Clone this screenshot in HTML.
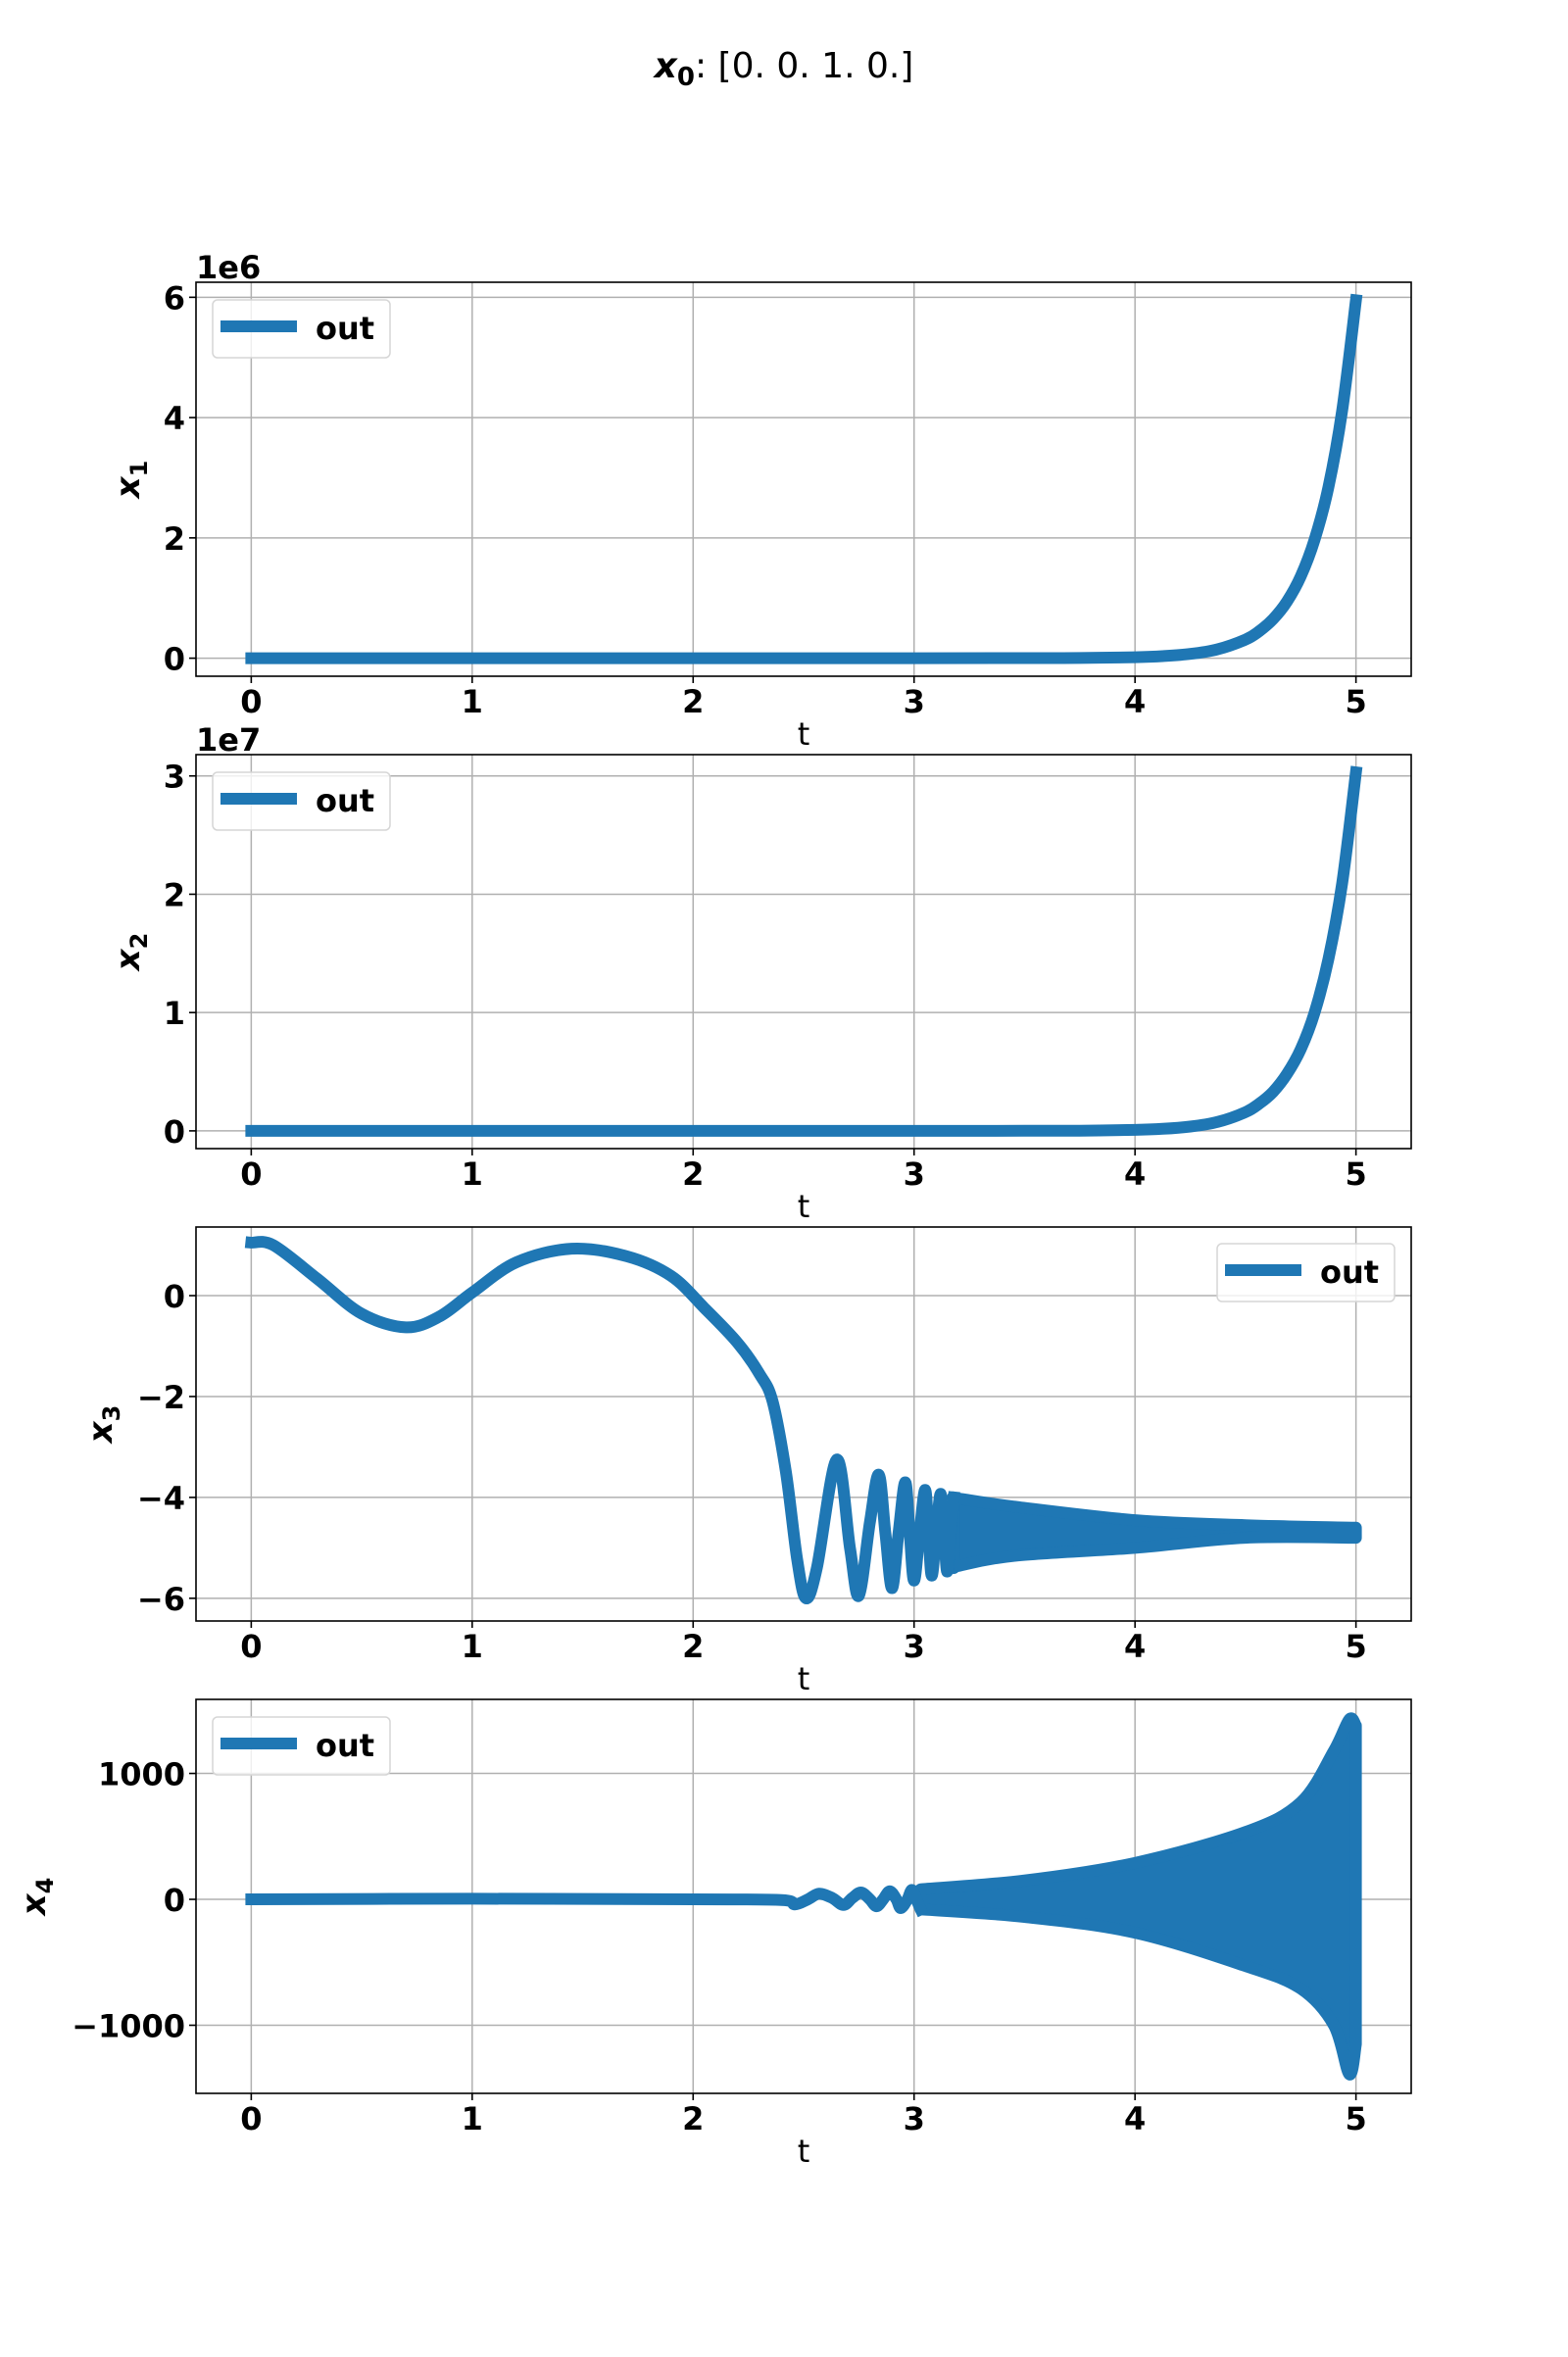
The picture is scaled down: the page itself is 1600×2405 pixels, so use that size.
<!DOCTYPE html>
<html><head><meta charset="utf-8">
<style>
html,body{margin:0;padding:0;background:#fff;}
svg text{font-family:"DejaVu Sans","Liberation Sans",sans-serif;}
</style></head>
<body>
<svg id="fig" xmlns="http://www.w3.org/2000/svg" width="1600" height="2400" viewBox="0 0 1600 2400">
<rect width="1600" height="2400" fill="#fff"/>
<text x="800" y="79" text-anchor="middle" font-size="36"><tspan font-weight="bold" font-style="italic">x</tspan><tspan font-weight="bold" font-size="26" dy="8">0</tspan><tspan dy="-8">: [0. 0. 1. 0.]</tspan></text>
</svg>
<script>
// ---- data ----
const x1Times = [0,1,2,3,3.5,3.75,4,4.125,4.25,4.375,4.5,4.5625,4.625,4.6875,4.75,4.8125,4.875,4.9375,5];
const x1Values = [0,0,0,0,0.0009,0.0037,0.016,0.034,0.071,0.149,0.31,0.45,0.65,0.94,1.36,1.97,2.84,4.11,5.95]; // ×1e6
const x2Times = [0,1,2,3,3.5,3.75,4,4.125,4.25,4.375,4.5,4.5625,4.625,4.6875,4.75,4.8125,4.875,4.9375,5];
const x2Values = [0,0,0,0,0.0005,0.0019,0.008,0.017,0.036,0.076,0.158,0.23,0.33,0.48,0.69,1.0,1.45,2.09,3.03]; // ×1e7
const x3Times = [0,0.1,0.3,0.5,0.7,0.85,1.0,1.2,1.45,1.7,1.9,2.05,2.2,2.3,2.36,2.42,2.47,2.51,2.56,2.65,2.71,2.75,2.8,2.84,2.87,2.9,2.93,2.96,2.98,3.0,3.025,3.05,3.065,3.08,3.1,3.12,3.135,3.15,3.165,3.18];
const x3Values = [1.05,1.0,0.33,-0.36,-0.63,-0.42,0.06,0.66,0.93,0.78,0.39,-0.24,-0.93,-1.55,-2.1,-3.5,-5.2,-6.0,-5.4,-3.25,-5.0,-5.95,-4.5,-3.55,-4.7,-5.8,-4.7,-3.7,-4.7,-5.65,-4.7,-3.85,-4.7,-5.55,-4.7,-3.93,-4.7,-5.47,-4.7,-4.0];
const x3BandTimes = [3.18,3.2,3.45,4.0,4.5,5.0];
const x3BandUpper = [-4.0,-4.02,-4.18,-4.45,-4.55,-4.6];
const x3BandLower = [-5.4,-5.36,-5.16,-5.0,-4.8,-4.8];
const x4Times = [0,1,2,2.4,2.46,2.52,2.57,2.63,2.68,2.72,2.76,2.8,2.83,2.86,2.89,2.92,2.94,2.97,2.99,3.01,3.03];
const x4Values = [0,5,0,-5,-40,0,45,10,-45,10,55,0,-55,0,65,0,-70,0,75,0,-80];
const x4BandTimes = [3.03,3.5,4.0,4.5,4.75,4.9,4.97,5.0];
const x4BandUpper = [80,150,290,535,770,1180,1430,1380];
const x4BandLower = [-80,-140,-265,-530,-710,-1000,-1390,-1150];
const tTicks = [0,1,2,3,4,5];
const y1Ticks = [0,2,4,6];
const y2Ticks = [0,1,2,3];
const y3Ticks = [0,-2,-4,-6];
const y4Ticks = [-1000,0,1000];

const NS = "http://www.w3.org/2000/svg";
const svg = document.getElementById('fig');
const L = 200, R = 1440, H = 402, BLUE = "#1f77b4", LW = 12;
const xMin = -0.25, xMax = 5.25;
function mk(tag, attrs, parent){const e=document.createElementNS(NS,tag);for(const k in attrs)e.setAttribute(k,attrs[k]);(parent||svg).appendChild(e);return e;}
function fmt(v){return v<0?"\u2212"+Math.abs(v):String(v);}
function smooth(pts, cont){
  let d = (cont?"L":"M")+pts[0][0].toFixed(1)+","+pts[0][1].toFixed(1);
  for(let i=0;i<pts.length-1;i++){
    const p0=pts[Math.max(0,i-1)],p1=pts[i],p2=pts[i+1],p3=pts[Math.min(pts.length-1,i+2)];
    const c1=[p1[0]+(p2[0]-p0[0])/6,p1[1]+(p2[1]-p0[1])/6];
    const c2=[p2[0]-(p3[0]-p1[0])/6,p2[1]-(p3[1]-p1[1])/6];
    d+="C"+c1[0].toFixed(1)+","+c1[1].toFixed(1)+" "+c2[0].toFixed(1)+","+c2[1].toFixed(1)+" "+p2[0].toFixed(1)+","+p2[1].toFixed(1);
  }
  return d;
}

function panel(idx, top, yMin, yMax, yTicks, sub, ylabX, offsetText, series, band, legendRight){
  const g = mk('g',{});
  
  
  const B = top + H;
  const sx = t => L + (t - xMin) / (xMax - xMin) * (R - L);
  const sy = v => B - (v - yMin) / (yMax - yMin) * H;
  const clipId = 'clip'+idx;
  const cp = mk('clipPath',{id:clipId},g); mk('rect',{x:L,y:top,width:R-L,height:H},cp);
  tTicks.forEach(t=>{
    const l = mk('line',{x1:sx(t),x2:sx(t),y1:top,y2:B,stroke:"#b0b0b0","stroke-width":1.5},g);
    
    
  });
  yTicks.forEach(v=>{
    const l = mk('line',{x1:L,x2:R,y1:sy(v),y2:sy(v),stroke:"#b0b0b0","stroke-width":1.5},g);
    
    
  });
  const cg = mk('g',{'clip-path':'url(#'+clipId+')'},g);
  if(band){
    const up = band.t.map((t,i)=>[sx(t),sy(band.u[i])]);
    const lo = band.t.map((t,i)=>[sx(t),sy(band.l[i])]).reverse();
    const d = smooth(up,false) + smooth(lo,true) + "Z";
    const p = mk('path',{d:d,fill:BLUE,stroke:BLUE,"stroke-width":LW,"stroke-linejoin":"round"},cg);
    
    
  }
  const pts = series.t.map((t,i)=>[sx(t),sy(series.v[i])]);
  const line = mk('path',{d:smooth(pts,false),fill:"none",stroke:BLUE,"stroke-width":LW,"stroke-linejoin":"round","stroke-linecap":"square"},cg);
  
  
  const fr = mk('rect',{x:L,y:top,width:R-L,height:H,fill:"none",stroke:"#000","stroke-width":1.6},g);
  
  
  tTicks.forEach(t=>{
    mk('line',{x1:sx(t),x2:sx(t),y1:B,y2:B+7,stroke:"#000","stroke-width":1.6},g);
    const tx = mk('text',{x:sx(t),y:B+37,"text-anchor":"middle","font-size":32,"font-weight":"bold"},g);
    tx.textContent = fmt(t);
    
    
  });
  yTicks.forEach(v=>{
    mk('line',{x1:L-7,x2:L,y1:sy(v),y2:sy(v),stroke:"#000","stroke-width":1.6},g);
    const tx = mk('text',{x:L-11,y:sy(v)+12,"text-anchor":"end","font-size":32,"font-weight":"bold"},g);
    tx.textContent = fmt(v);
    
    
  });
  const xl = mk('text',{x:820,y:B+70,"text-anchor":"middle","font-size":32},g);
  xl.textContent = "t";
  
  
  const yl = mk('text',{transform:"translate("+ylabX+","+(top+H/2)+") rotate(-90)","text-anchor":"middle","font-size":34,"font-weight":"bold"},g);
  yl.innerHTML = '<tspan font-style="italic">x</tspan><tspan font-size="24" dy="8">'+sub+'</tspan>';
  
  
  if(offsetText){
    const ot = mk('text',{x:200,y:top-4,"font-size":32,"font-weight":"bold"},g);
    ot.textContent = offsetText;
    
    
  }
  const lx = legendRight ? 1242 : 217, ly = top + (legendRight ? 17 : 18);
  const lg = mk('g',{},g);
  
  
  mk('rect',{x:lx,y:ly,width:181,height:59,rx:5,fill:"#fff","fill-opacity":0.8,stroke:"#d6d6d6","stroke-width":1.5},lg);
  const ll = mk('line',{x1:lx+8,x2:lx+86,y1:ly+27,y2:ly+27,stroke:BLUE,"stroke-width":LW},lg);
  
  
  const lt = mk('text',{x:lx+105,y:ly+40,"font-size":32,"font-weight":"bold"},lg);
  lt.textContent = "out";
  
  
}

panel(1, 288, -0.3, 6.25, y1Ticks, "1", 142, "1e6", {t:x1Times,v:x1Values}, null, false);
panel(2, 770, -0.15, 3.18, y2Ticks, "2", 142, "1e7", {t:x2Times,v:x2Values}, null, false);
panel(3, 1252, -6.45, 1.36, y3Ticks, "3", 114, null, {t:x3Times,v:x3Values}, {t:x3BandTimes,u:x3BandUpper,l:x3BandLower}, true);
panel(4, 1734, -1541, 1588, y4Ticks, "4", 46, null, {t:x4Times,v:x4Values}, {t:x4BandTimes,u:x4BandUpper,l:x4BandLower}, false);
</script>
</body></html>
